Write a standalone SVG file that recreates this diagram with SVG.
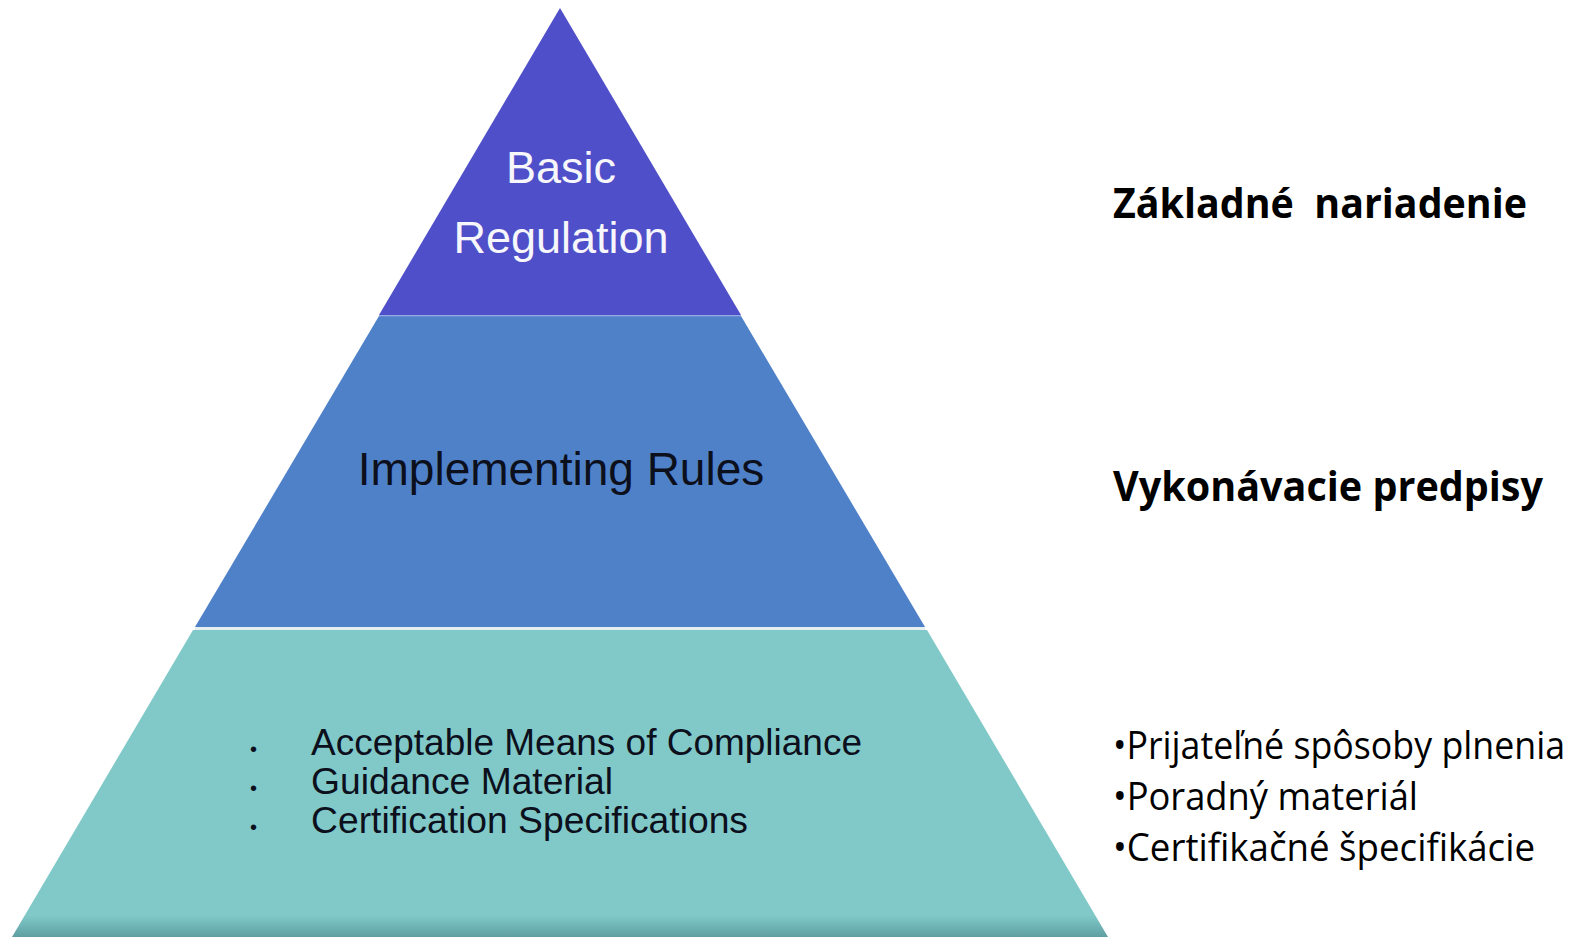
<svg xmlns="http://www.w3.org/2000/svg" width="1595" height="937" viewBox="0 0 1595 937">
  <style>
    .pyr { font-family: "Liberation Sans", Arial, sans-serif; }
    .light { fill: #f6f6fb; }
    .dark { fill: #0c0f1c; }
    .cal { font-family: "Open Sans", "Noto Sans", "Liberation Sans", sans-serif; fill: #000; }
    .hdr { font-weight: bold; font-size: 41px; }
    .item { font-size: 38px; }
  </style>
  <defs>
    <linearGradient id="baseShade" gradientUnits="userSpaceOnUse" x1="0" y1="630" x2="0" y2="937">
      <stop offset="0" stop-color="#80C9C8"/>
      <stop offset="0.93" stop-color="#80C9C8"/>
      <stop offset="1" stop-color="#5f9fa2"/>
    </linearGradient>
  </defs>
  <rect width="1595" height="937" fill="#ffffff"/>

  <g id="tier-basic-regulation">
    <polygon points="560,8 741,315 379,315" fill="#4F4FC9"/>
    <text class="pyr light" x="561" y="183" font-size="45" text-anchor="middle">Basic</text>
    <text class="pyr light" x="561" y="253" font-size="45" text-anchor="middle">Regulation</text>
  </g>

  <g id="tier-implementing-rules">
    <polygon points="379,316 741,316 925,627 195,627" fill="#4F81C9"/>
    <line x1="379" y1="316" x2="741" y2="316" stroke="#6f8fd8" stroke-width="1.5"/>
    <text class="pyr dark" x="561" y="485" font-size="46" text-anchor="middle">Implementing Rules</text>
  </g>

  <g id="tier-amc-gm-cs">
    <polygon points="193,630 927,630 1108,937 12,937" fill="url(#baseShade)"/>
    <line x1="195" y1="628.5" x2="925" y2="628.5" stroke="#e6eef0" stroke-width="3"/>
    <text class="pyr dark" x="250" y="756" font-size="20">•</text>
    <text class="pyr dark" x="250" y="795" font-size="20">•</text>
    <text class="pyr dark" x="250" y="834" font-size="20">•</text>
    <text class="pyr dark" x="311" y="755" font-size="36" textLength="551" lengthAdjust="spacingAndGlyphs">Acceptable Means of Compliance</text>
    <text class="pyr dark" x="311" y="794" font-size="36" textLength="302" lengthAdjust="spacingAndGlyphs">Guidance Material</text>
    <text class="pyr dark" x="311" y="833" font-size="36" textLength="437" lengthAdjust="spacingAndGlyphs">Certification Specifications</text>
  </g>

  <g id="label-zakladne">
    <text class="cal hdr" x="1113" y="218" xml:space="preserve" textLength="414" lengthAdjust="spacingAndGlyphs">Základné  nariadenie</text>
  </g>

  <g id="label-vykonavacie">
    <text class="cal hdr" x="1113" y="501" textLength="430" lengthAdjust="spacingAndGlyphs">Vykonávacie predpisy</text>
  </g>

  <g id="label-bullets">
    <text class="cal item" x="1113" y="759" textLength="452" lengthAdjust="spacingAndGlyphs">•Prijateľné spôsoby plnenia</text>
    <text class="cal item" x="1113" y="810" textLength="305" lengthAdjust="spacingAndGlyphs">•Poradný materiál</text>
    <text class="cal item" x="1113" y="861" textLength="422" lengthAdjust="spacingAndGlyphs">•Certifikačné špecifikácie</text>
  </g>
</svg>
